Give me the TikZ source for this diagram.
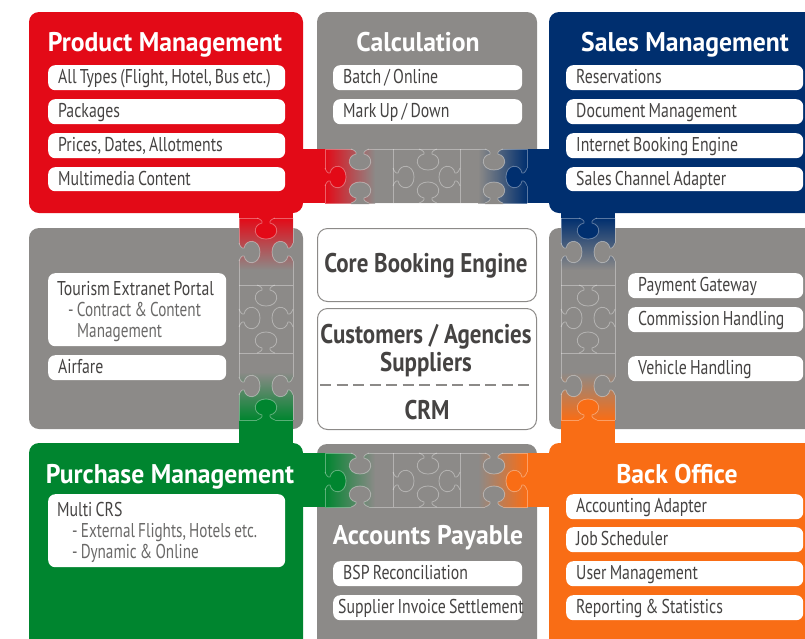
\documentclass[tikz,border=0pt]{standalone}
\usepackage{fontspec}
\setmainfont[FakeStretch=0.79]{PT Sans}
\newfontfamily\subfamily[FakeStretch=0.76]{PT Sans}
\newfontfamily\titlefont[FakeStretch=0.95]{PT Sans Bold}
\newfontfamily\corefont[FakeStretch=0.85]{PT Sans Bold}
\definecolor{cred}{HTML}{E30A17}
\definecolor{cblue}{HTML}{002F6F}
\definecolor{cgreen}{HTML}{00852F}
\definecolor{corange}{HTML}{F96D15}
\definecolor{cgrey}{HTML}{8C8A88}
\definecolor{ctext}{HTML}{454342}
\colorlet{csub}{ctext!80!white}
\newcommand{\tightwords}{\spaceskip=3.2pt\relax\xspaceskip=3.2pt\relax}
\newcommand{\subline}[2]{\mbox{\hspace*{#1}\subfamily\tightwords\textcolor{csub}{#2}}}
\tikzset{
  panel/.style={rounded corners=10pt},
  title/.style={text=white,font=\fontsize{27}{30}\selectfont\titlefont,inner sep=0pt,anchor=base},
  pill/.style={fill=white,rounded corners=7pt,anchor=north west,text=ctext,inner xsep=0pt,inner ysep=0pt,
     font=\fontsize{20}{21}\selectfont,align=left},
  multitext/.style={anchor=west,inner sep=0pt,text=ctext,font=\fontsize{20}{21}\selectfont,align=left,text width=170pt},
  corebox/.style={draw=cgrey,line width=1pt,fill=white,rounded corners=10pt},
  coretext/.style={text=ctext,font=\fontsize{27}{28}\selectfont\corefont,inner sep=0pt,align=center},
  seam/.style={draw=white,draw opacity=.35,line width=.8pt}
}
\def\knobcore{(-9,0) .. controls (-6,-1) and (-3,-3) .. (-4,-5) .. controls (-14,-7) and (-13,-21) .. (0,-21) .. controls (13,-21) and (14,-7) .. (4,-5) .. controls (3,-3) and (6,-1) .. (9,0)}
% \knob{x}{y}{rotation}{fill}
\newcommand{\knob}[4]{%
  \fill[#4,shift={(#1,#2)},rotate=#3] \knobcore -- (9,1) -- (-9,1) -- cycle;
  \draw[seam,shift={(#1,#2)},rotate=#3] \knobcore;}
\newcommand{\knobo}[3]{\draw[seam,shift={(#1,#2)},rotate=#3] \knobcore;}
% \hstrip{top y}{left colour}{right colour}
\newcommand{\hstrip}[3]{%
  \fill[cgrey] (325,#1) rectangle (527,#1+54);
  \shade[left color=#2,right color=cgrey] (325,#1) rectangle (375,#1+54);
  \shade[left color=cgrey,right color=#3] (478,#1) rectangle (527,#1+54);
  \fill[#2] (303,#1) rectangle (325,#1+54);
  \fill[#3] (527,#1) rectangle (549,#1+54);
  \draw[seam] (325,#1) rectangle (527,#1+54);
  \draw[seam] (393,#1) -- (393,#1+54) (460,#1) -- (460,#1+54);
  \knob{360}{#1}{180}{cgrey}\knob{360}{#1+54}{0}{cgrey}
  \knob{325}{#1+28}{-90}{#2}\knobo{393}{#1+28}{-90}
  \knobo{428}{#1}{180}\knobo{428}{#1+54}{0}
  \knobo{460}{#1+28}{90}
  \knob{494}{#1}{180}{cgrey}\knob{494}{#1+54}{0}{cgrey}
  \knob{527}{#1+28}{90}{#3}}
% \vstrip{left x}{top colour}{bottom colour}
\newcommand{\vstrip}[3]{%
  \fill[cgrey] (#1,218) rectangle (#1+54,420);
  \shade[top color=#2,bottom color=cgrey] (#1,218) rectangle (#1+54,270);
  \shade[top color=cgrey,bottom color=#3] (#1,372) rectangle (#1+54,420);
  \fill[#2] (#1,205) rectangle (#1+54,218);
  \fill[#3] (#1,420) rectangle (#1+54,450);
  \draw[seam] (#1,218) -- (#1+54,218) (#1,285) -- (#1+54,285) (#1,353) -- (#1+54,353) (#1,420) -- (#1+54,420);
  \draw[seam] (#1,218) -- (#1,420) (#1+54,218) -- (#1+54,420);
  \knob{#1+27}{218}{180}{#2}
  \knob{#1}{252}{-90}{cgrey}\knob{#1+54}{252}{90}{cgrey}
  \knobo{#1+27}{285}{180}\knobo{#1+27}{353}{0}
  \knobo{#1}{318}{-90}\knobo{#1+54}{318}{90}
  \knob{#1}{386}{-90}{cgrey}\knob{#1+54}{386}{90}{cgrey}
  \knob{#1+27}{420}{0}{#3}}
% \pill{name}{x}{y}{w}{h}{text}
\newcommand{\pill}[6]{\node[pill,minimum height=#5pt,text width=#4pt-10pt,inner xsep=5pt,text height=15pt,text depth=3pt] (#1) at (#2,#3) {\mbox{\tightwords\hspace*{5pt}#6}};}
\begin{document}
\begin{tikzpicture}[x=1pt,y=-1pt]
\useasboundingbox (0,0) rectangle (805,638);
\fill[white] (0,0) rectangle (805,638);
% panels
\fill[cred,panel] (29,12) rectangle (303,213);
\fill[cgrey,panel] (317,12) rectangle (537,203);
\fill[cblue,panel] (549,12) rectangle (830,213);
\fill[cgrey,panel] (29,228) rectangle (303,429);
\fill[cgrey,panel] (549,228) rectangle (830,429);
\fill[cgreen,panel] (29,443) rectangle (303,660);
\fill[cgrey,panel] (317,444) rectangle (537,660);
\fill[corange,panel] (549,443) rectangle (830,660);
% puzzle strips
\hstrip{149}{cred}{cblue}
\hstrip{453}{cgreen}{corange}
\vstrip{239}{cred}{cgreen}
\vstrip{561}{cblue}{corange}
% centre
\node[corebox,minimum width=219pt,minimum height=73pt,anchor=north west,inner sep=0pt] (core) at (317,228) {};
\node[coretext,anchor=base] (coret) at (426,272) {Core Booking Engine};
\node[corebox,minimum width=219pt,minimum height=121pt,anchor=north west,inner sep=0pt] (cust) at (317,308) {};
\node[coretext] (custt) at (426,350.5) {Customers / Agencies\\Suppliers};
\node[coretext,anchor=base] (crm) at (427,419) {CRM};
\coordinate (dl) at (320,385); \coordinate (dr) at (533,385);
\draw[cgrey,line width=1.2pt,dash pattern=on 11pt off 5.5pt] (dl) -- (dr);
% titles
\node[title] (t1) at (165,51) {Product Management};
\node[title] (t2) at (418,51) {Calculation};
\node[title] (t3) at (685,51) {Sales Management};
\node[title] (t4) at (170,483) {Purchase Management};
\node[title] (t5) at (677,483) {Back Office};
\node[title] (t6) at (428,544) {Accounts Payable};
% product
\pill{p1}{48}{65}{237}{25}{All Types (Flight, Hotel, Bus etc.)}
\pill{p2}{48}{99}{237}{25}{Packages}
\pill{p3}{48}{133}{237}{25}{Prices, Dates, Allotments}
\pill{p4}{48}{167}{237}{24}{Multimedia Content}
% calculation
\pill{c1}{333}{65}{189}{25}{Batch / Online}
\pill{c2}{333}{99}{189}{25}{Mark Up / Down}
% sales
\pill{s1}{566}{65}{237}{25}{Reservations}
\pill{s2}{566}{99}{237}{25}{Document Management}
\pill{s3}{566}{133}{237}{25}{Internet Booking Engine}
\pill{s4}{566}{167}{237}{24}{Sales Channel Adapter}
% left
\node[fill=white,rounded corners=7pt,anchor=north west,minimum width=178pt,minimum height=73pt,inner sep=0pt] (l1) at (48,273) {};
\node[multitext] (l1t) at (57,311.5) {\mbox{\tightwords Tourism Extranet Portal}\\\subline{11pt}{- Contract \& Content}\\\subline{20pt}{Management}};
\pill{l2}{48}{355}{178}{25}{Airfare}
% right
\pill{r1}{628}{273}{175}{25}{Payment Gateway}
\pill{r2}{628}{307}{175}{25}{Commission Handling}
\pill{r3}{628}{356}{175}{25}{Vehicle Handling}
% purchase
\node[fill=white,rounded corners=7pt,anchor=north west,minimum width=237pt,minimum height=73pt,inner sep=0pt] (pm) at (48,494) {};
\node[multitext] (pmt) at (57,532.5) {\mbox{\tightwords Multi CRS}\\\subline{15pt}{- External Flights, Hotels etc.}\\\subline{15pt}{- Dynamic \& Online}};
% accounts payable
\pill{a1}{333}{561}{189}{25}{BSP Reconciliation}
\pill{a2}{333}{595}{189}{25}{\hspace*{-5pt}Supplier Invoice Settlement}
% back office
\pill{b1}{566}{494}{237}{25}{Accounting Adapter}
\pill{b2}{566}{527}{237}{25}{Job Scheduler}
\pill{b3}{566}{561}{237}{25}{User Management}
\pill{b4}{566}{595}{237}{25}{Reporting \& Statistics}
\end{tikzpicture}
\end{document}
